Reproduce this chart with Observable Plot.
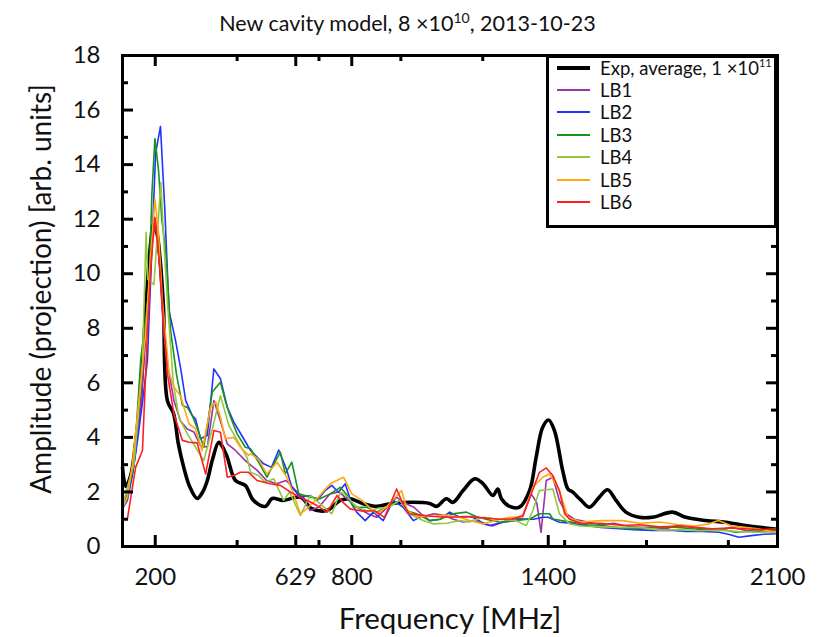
<!DOCTYPE html>
<html><head><meta charset="utf-8">
<script src="https://cdn.jsdelivr.net/npm/d3@7"></script>
<script src="https://cdn.jsdelivr.net/npm/@observablehq/plot@0.6"></script>
<style>
body{margin:0;background:#fff;font-family:Lato,"DejaVu Sans",sans-serif;color:#111;}
#wrap{position:relative;width:821px;height:637px;overflow:hidden;}
#title{position:absolute;left:0;top:10px;width:815px;text-align:center;font-size:21.5px;}
#title sup{font-size:14px;vertical-align:8px;line-height:0;}
#chart{position:absolute;left:0;top:45px;}
#legend{position:absolute;left:546px;top:55px;width:231px;height:173px;border:3px solid #000;box-sizing:border-box;background:#fff;}
.row{position:absolute;left:8px;height:20px;margin-top:-10px;display:flex;align-items:center;font-size:18.5px;white-space:nowrap;}
.sw{display:inline-block;width:33px;margin-right:10px;}
.row sup{font-size:11px;vertical-align:8px;line-height:0;}
</style></head>
<body><div id="wrap"><div id="title"></div><div id="chart"></div><div id="legend"></div></div>
<script>
// ---- data (frequency in MHz, amplitude in arb. units) ----
const seriesNames = ["LB1","LB2","LB3","LB4","LB5","LB6"];
const seriesColors = ["#9b33a8","#2233ff","#17921c","#92c83e","#ffa812","#ff1f1f"];

const freqExp = [100,110,125,140,155,170,185,195,205,215,225,237,256,270,287,305,328,345,359,375,394,408,420,445,475,500,536,557,591,643,678,724,765,795,835,876,917,978,1038,1059,1089,1109,1140,1175,1201,1231,1246,1257,1282,1312,1343,1363,1383,1401,1419,1444,1460,1475,1500,1526,1556,1581,1607,1637,1678,1718,1779,1820,1881,1942,2003,2063,2100];
const ampExp = [2.9,2.2,2.6,3.8,5.5,8.5,11.0,11.8,11.5,10.5,8.8,5.35,4.87,3.8,2.9,2.2,1.76,2.0,2.42,3.2,3.82,3.6,3.27,2.42,2.24,1.69,1.47,1.76,1.69,1.81,1.39,1.32,1.69,1.75,1.57,1.47,1.57,1.62,1.58,1.47,1.75,1.62,2.05,2.48,2.3,1.87,2.11,1.75,1.47,1.44,2.05,3.27,4.37,4.64,4.25,2.79,2.11,1.99,1.7,1.44,1.81,2.08,1.69,1.26,1.07,1.07,1.26,1.07,0.95,0.89,0.77,0.68,0.63];

const freqLB1 = [100,115,135,155,175,190,200,212,225,240,257,277,298,318,338,359,379,399,420,445,475,511,540,570,600,625,650,673,700,734,760,790,820,850,876,905,937,960,990,1020,1050,1080,1110,1140,1170,1201,1230,1260,1290,1320,1348,1365,1378,1394,1414,1434,1455,1480,1520,1560,1600,1640,1680,1720,1760,1800,1840,1880,1920,1960,2000,2040,2080,2100];
const ampLB1 = [1.4,1.8,3.1,5.0,8.5,11.0,12.0,10.5,8.0,6.5,5.35,4.6,4.31,4.2,3.7,3.64,5.35,4.6,3.76,3.52,3.15,2.79,2.42,2.3,2.42,2.1,1.8,1.32,1.45,1.93,2.0,1.7,1.4,1.2,1.07,1.4,1.81,1.6,1.44,1.1,1.2,1.15,1.0,0.9,0.95,0.83,0.75,0.9,1.0,1.05,1.93,1.6,0.52,2.42,2.54,1.69,1.2,1.0,0.9,0.8,0.85,0.75,0.7,0.7,0.65,0.8,0.7,0.65,0.6,0.7,0.6,0.55,0.55,0.5];

const freqLB2 = [100,115,130,146,160,176,190,201,216,229,242,262,277,293,313,323,338,359,379,399,420,440,470,491,501,531,555,577,602,617,643,673,694,719,739,759,780,800,815,841,866,896,927,957,988,1018,1038,1070,1099,1130,1165,1195,1221,1262,1295,1323,1355,1383,1400,1434,1470,1516,1560,1617,1660,1718,1770,1820,1870,1921,1950,1982,2020,2060,2100];
const ampLB2 = [1.39,1.69,2.6,3.9,5.2,6.8,11.0,14.4,15.4,12.4,8.65,7.55,6.57,5.35,4.8,4.68,3.95,4.07,6.51,6.15,5.1,4.56,3.95,3.52,3.4,3.03,2.9,3.54,2.79,2.17,1.81,1.87,1.69,2.05,2.24,1.99,2.3,1.57,1.26,0.95,1.26,0.95,1.69,1.44,0.95,1.14,0.95,1.0,1.26,1.07,1.1,0.9,0.77,0.89,0.95,1.01,1.0,1.07,1.07,0.89,0.85,0.77,0.7,0.65,0.62,0.59,0.6,0.55,0.55,0.52,0.45,0.34,0.4,0.45,0.47];

const freqLB3 = [100,115,135,156,170,181,190,199,210,220,232,247,265,283,298,313,333,348,360,374,399,415,430,450,475,491,515,541,557,582,597,617,638,673,703,734,765,785,805,846,876,905,947,970,998,1038,1070,1109,1150,1180,1210,1252,1300,1343,1373,1404,1414,1440,1475,1520,1566,1620,1670,1720,1780,1840,1900,1940,1972,2010,2060,2100];
const ampLB3 = [1.6,1.9,3.0,6.9,8.2,9.5,13.0,14.95,13.8,12.0,10.85,7.9,6.3,5.17,5.1,4.8,4.19,3.64,4.5,5.66,6.02,5.3,4.74,4.13,3.64,3.58,3.1,2.54,2.91,3.46,2.66,3.09,1.93,1.81,1.75,1.93,2.17,1.9,1.44,1.44,1.26,1.44,1.69,1.3,1.2,0.95,1.0,1.2,1.26,1.1,1.0,0.89,0.95,1.01,1.2,1.2,1.01,0.95,0.89,0.8,0.77,0.68,0.65,0.7,0.72,0.65,0.6,0.6,0.52,0.55,0.58,0.59];

const freqLB4 = [100,105,120,135,150,161,172,177,196,217,227,237,255,272,298,323,348,374,399,425,450,480,491,515,536,562,592,610,643,673,700,739,765,780,815,850,880,915,947,975,1018,1048,1090,1130,1160,1201,1250,1300,1333,1353,1373,1414,1434,1465,1500,1560,1620,1680,1740,1800,1860,1920,1980,2040,2100];
const ampLB4 = [1.8,1.69,2.4,3.03,5.0,6.8,11.52,9.8,9.6,13.35,11.0,9.0,6.0,4.74,4.13,3.64,3.15,4.3,5.53,4.43,3.9,3.27,2.72,2.6,2.36,2.48,1.69,2.0,1.14,1.87,1.6,1.2,1.99,1.9,1.44,1.3,1.4,1.45,1.69,1.2,0.95,0.83,0.85,0.95,0.9,1.07,1.0,0.95,0.77,1.32,2.05,2.11,1.2,0.83,0.75,0.72,0.7,0.7,0.6,0.62,0.58,0.6,0.55,0.52,0.55];

const freqLB5 = [100,115,130,146,160,171,185,199,210,222,242,257,277,303,323,343,369,385,399,414,440,460,485,491,515,541,572,602,620,643,668,698,734,775,800,830,876,905,952,970,1000,1040,1080,1120,1160,1201,1240,1282,1320,1353,1383,1404,1434,1460,1500,1560,1627,1680,1740,1800,1850,1891,1920,1960,2000,2040,2080,2100];
const ampLB5 = [1.4,1.81,3.0,4.86,6.5,7.9,10.5,12.74,11.5,9.0,6.39,5.84,5.53,4.5,4.31,3.52,5.1,5.3,4.74,3.95,4.0,3.64,3.34,3.4,3.2,2.66,3.09,2.54,2.0,1.2,1.44,1.81,2.3,2.54,1.93,1.7,1.2,1.44,2.05,1.3,1.1,1.1,1.15,1.1,0.95,0.83,0.95,1.07,1.07,2.17,2.54,2.66,2.05,1.07,0.9,0.95,0.95,0.85,0.9,0.8,0.75,0.83,0.95,0.75,0.7,0.65,0.55,0.5];

const freqLB6 = [100,115,140,161,176,188,199,212,227,237,257,283,303,328,354,379,399,420,440,460,485,511,551,582,612,643,670,694,725,755,775,795,830,870,900,937,955,975,1010,1050,1100,1150,1200,1250,1290,1323,1348,1373,1394,1414,1434,1450,1465,1500,1560,1627,1680,1740,1800,1850,1900,1950,2000,2050,2100];
const ampLB6 = [1.01,1.01,2.9,3.52,7.9,10.5,12.07,10.5,7.9,6.33,4.86,3.89,3.82,3.8,2.66,4.25,4.19,2.54,2.6,2.72,2.72,2.42,2.3,2.24,2.0,1.81,1.65,1.5,1.26,1.87,1.6,1.38,1.3,1.3,1.07,2.11,1.6,1.2,1.15,1.1,1.07,1.1,1.05,1.0,1.01,1.14,1.93,2.72,2.88,2.6,2.05,1.2,1.0,0.85,0.85,0.77,0.8,0.72,0.75,0.7,0.65,0.68,0.65,0.62,0.65];

const xTickLabels = [200,629,800,1400,2100];
const xMinorTicks = [450,700,950,1200,1450,1700,1950];
const yTickLabels = [0,2,4,6,8,10,12,14,16,18];
const yMinorTicks = [1,3,5,7,9,11,13,15,17];

const titleText = ["New cavity model, 8 ×10","10",", 2013-10-23"];
const expLabel = ["Exp, average, 1 ×10","11"];
const xLabel = "Frequency [MHz]";
const yLabel = "Amplitude (projection) [arb. units]";

// ---- build tables ----
const expData = freqExp.map((f,i)=>({f, a: ampExp[i]}));
const lbF = [freqLB1,freqLB2,freqLB3,freqLB4,freqLB5,freqLB6];
const lbA = [ampLB1,ampLB2,ampLB3,ampLB4,ampLB5,ampLB6];
const lbData = seriesNames.flatMap((s,k)=>lbF[k].map((f,i)=>({s, f, a: lbA[k][i]})));

// layout (pixels)
const W = 821, H = 592, mL = 122, mR = 44, mT = 10, mB = 91;
const innerW = W - mL - mR, innerH = H - mT - mB;
const majorLen = 11, minorLen = 6;
const tk = {stroke:"#000", strokeWidth:3};

const chart = Plot.plot({
  width:W, height:H,
  marginLeft:mL, marginRight:mR, marginTop:mT, marginBottom:mB,
  style:{fontFamily:"Lato, 'DejaVu Sans', sans-serif", fontSize:"24px", color:"#111", background:"transparent", overflow:"visible"},
  x:{domain:[100,2100], label:null},
  y:{domain:[0,18], label:null},
  color:{domain:seriesNames, range:seriesColors},
  marks:[
    Plot.line(expData,{x:"f", y:"a", stroke:"#000", strokeWidth:3.6, curve:"catmull-rom"}),
    Plot.line(lbData,{x:"f", y:"a", z:"s", stroke:"s", strokeWidth:1.6, strokeLinejoin:"round"}),
    // inward ticks, all four sides
    Plot.tickX(xTickLabels,{x:d=>d, insetTop:innerH-majorLen, ...tk}),
    Plot.tickX(xTickLabels,{x:d=>d, insetBottom:innerH-majorLen, ...tk}),
    Plot.tickX(xMinorTicks,{x:d=>d, insetTop:innerH-minorLen, ...tk}),
    Plot.tickX(xMinorTicks,{x:d=>d, insetBottom:innerH-minorLen, ...tk}),
    Plot.tickY(yTickLabels,{y:d=>d, insetRight:innerW-majorLen, ...tk}),
    Plot.tickY(yTickLabels,{y:d=>d, insetLeft:innerW-majorLen, ...tk}),
    Plot.tickY(yMinorTicks,{y:d=>d, insetRight:innerW-minorLen, ...tk}),
    Plot.tickY(yMinorTicks,{y:d=>d, insetLeft:innerW-minorLen, ...tk}),
    Plot.axisX(xTickLabels,{anchor:"bottom", tickSize:0, tickPadding:21, tickFormat:d=>String(d)}),
    Plot.axisY(yTickLabels,{anchor:"left", tickSize:0, tickPadding:22, tickFormat:d=>String(d)}),
    Plot.frame({stroke:"#000", strokeWidth:3}),
    Plot.text([xLabel],{frameAnchor:"bottom", lineAnchor:"middle", dy:73, fontSize:29.5}),
    Plot.text([yLabel],{frameAnchor:"left", textAnchor:"middle", lineAnchor:"middle", dx:-80, dy:-12, rotate:-90, fontSize:28})
  ]
});
document.getElementById("chart").appendChild(chart);

document.getElementById("title").innerHTML = `${titleText[0]}<sup>${titleText[1]}</sup>${titleText[2]}`;

// ---- legend ----
const legend = document.getElementById("legend");
const rowsY = [10,32,54,77,99,122,144];
const entries = [{label:`${expLabel[0]}<sup>${expLabel[1]}</sup>`, color:"#000", w:3.6}]
  .concat(seriesNames.map((s,i)=>({label:s, color:seriesColors[i], w:2})));
entries.forEach((e,i)=>{
  const r = document.createElement("div");
  r.className = "row";
  r.style.top = rowsY[i] + "px";
  r.innerHTML = `<span class="sw" style="height:${e.w}px;background:${e.color}"></span><span>${e.label}</span>`;
  legend.appendChild(r);
});
</script></body></html>
